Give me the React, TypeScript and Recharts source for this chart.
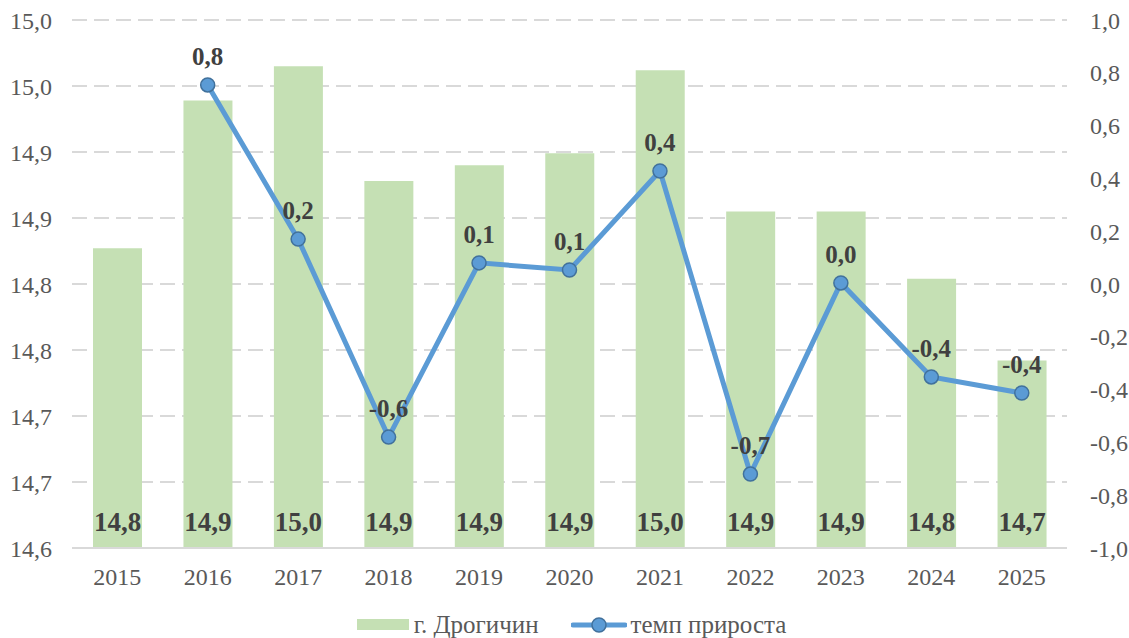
import { ComposedChart, Bar, Line, XAxis, YAxis, CartesianGrid, Legend, LabelList } from "recharts";

const years = ["2015", "2016", "2017", "2018", "2019", "2020", "2021", "2022", "2023", "2024", "2025"];
// численность населения, тыс. чел.
const population = [14.827, 14.939, 14.965, 14.878, 14.89, 14.899, 14.962, 14.855, 14.855, 14.804, 14.742];
// темп прироста, %
const growth = [null, 0.754, 0.17, -0.58, 0.08, 0.053, 0.428, -0.72, 0.004, -0.352, -0.413];

const leftTicks = [14.6, 14.65, 14.7, 14.75, 14.8, 14.85, 14.9, 14.95, 15.0];
const leftTickLabels = ["14,6", "14,7", "14,7", "14,8", "14,8", "14,9", "14,9", "15,0", "15,0"];
const rightTicks = [-1, -0.8, -0.6, -0.4, -0.2, 0, 0.2, 0.4, 0.6, 0.8, 1];

const FONT = "'Liberation Serif', 'Times New Roman', serif";
const BAR_COLOR = "#c5e0b4";
const LINE_COLOR = "#5b9bd5";

const fmt = (v: number) => v.toFixed(1).replace(".", ",");

const chartData = years.map((y, i) => ({
  year: y,
  population: population[i],
  growth: growth[i],
}));

function BarValueLabel(props: any) {
  const { x, y, width, height, value } = props;
  return (
    <text
      x={x + width / 2}
      y={y + height - 17}
      textAnchor="middle"
      fontFamily={FONT}
      fontWeight="bold"
      fontSize={27}
      fill="#404040"
    >
      {fmt(value)}
    </text>
  );
}

function LineValueLabel(props: any) {
  const { x, y, value } = props;
  if (value == null) return null;
  return (
    <text x={x} y={y - 20} textAnchor="middle" fontFamily={FONT} fontWeight="bold" fontSize={25} fill="#404040">
      {fmt(value)}
    </text>
  );
}

function ChartLegend() {
  return (
    <div
      style={{
        display: "flex",
        justifyContent: "center",
        alignItems: "center",
        paddingTop: 24,
        paddingLeft: 14,
        fontFamily: FONT,
        fontSize: 25,
        color: "#595959",
        lineHeight: "25px",
      }}
    >
      <span style={{ display: "inline-block", width: 52, height: 11, background: BAR_COLOR, marginRight: 5 }} />
      <span style={{ marginRight: 32 }}>г. Дрогичин</span>
      <svg width={56} height={16} style={{ marginRight: 4 }}>
        <line x1={2} y1={8} x2={54} y2={8} stroke={LINE_COLOR} strokeWidth={5} strokeLinecap="round" />
        <circle cx={28} cy={8} r={7} fill={LINE_COLOR} stroke="#41719c" strokeWidth={1.5} />
      </svg>
      <span>темп прироста</span>
    </div>
  );
}

export default function App() {
  return (
    <div style={{ position: "absolute", left: 0, top: 0, width: 1129, height: 638, background: "#fff" }}>
      <ComposedChart
        width={1129}
        height={638}
        data={chartData}
        margin={{ top: 20, right: 0, left: 0, bottom: 0 }}
        style={{ fontFamily: FONT }}
      >
        <CartesianGrid
          yAxisId="left"
          vertical={false}
          stroke="#d9d9d9"
          strokeWidth={2}
          strokeDasharray="15 7"
        />
        <XAxis
          dataKey="year"
          tickLine={false}
          tickSize={0}
          tickMargin={20}
          height={40}
          axisLine={{ stroke: "#d9d9d9", strokeWidth: 2 }}
          tick={{ fill: "#595959", fontSize: 24, fontFamily: FONT }}
          interval={0}
        />
        <YAxis
          yAxisId="left"
          orientation="left"
          width={72}
          domain={[14.6, 15.0]}
          ticks={leftTicks}
          tickFormatter={(_v: number, i: number) => leftTickLabels[i]}
          axisLine={false}
          tickLine={false}
          tickSize={0}
          tickMargin={20}
          tick={{ fill: "#595959", fontSize: 24, fontFamily: FONT }}
          allowDataOverflow
        />
        <YAxis
          yAxisId="right"
          orientation="right"
          width={62}
          domain={[-1, 1]}
          ticks={rightTicks}
          tickFormatter={(v: number) => fmt(v)}
          axisLine={false}
          tickLine={false}
          tickSize={0}
          tickMargin={23}
          tick={{ fill: "#595959", fontSize: 24, fontFamily: FONT, textAnchor: "start" }}
        />
        <Legend verticalAlign="bottom" height={50} content={() => <ChartLegend />} />
        <Bar
          yAxisId="left"
          dataKey="population"
          fill={BAR_COLOR}
          barSize={49}
          isAnimationActive={false}
        >
          <LabelList dataKey="population" content={BarValueLabel} />
        </Bar>
        <Line
          yAxisId="right"
          dataKey="growth"
          stroke={LINE_COLOR}
          strokeWidth={5}
          dot={{ r: 7, fill: LINE_COLOR, stroke: "#41719c", strokeWidth: 1.5 }}
          activeDot={false}
          connectNulls={false}
          isAnimationActive={false}
        >
          <LabelList dataKey="growth" content={LineValueLabel} />
        </Line>
      </ComposedChart>
    </div>
  );
}
